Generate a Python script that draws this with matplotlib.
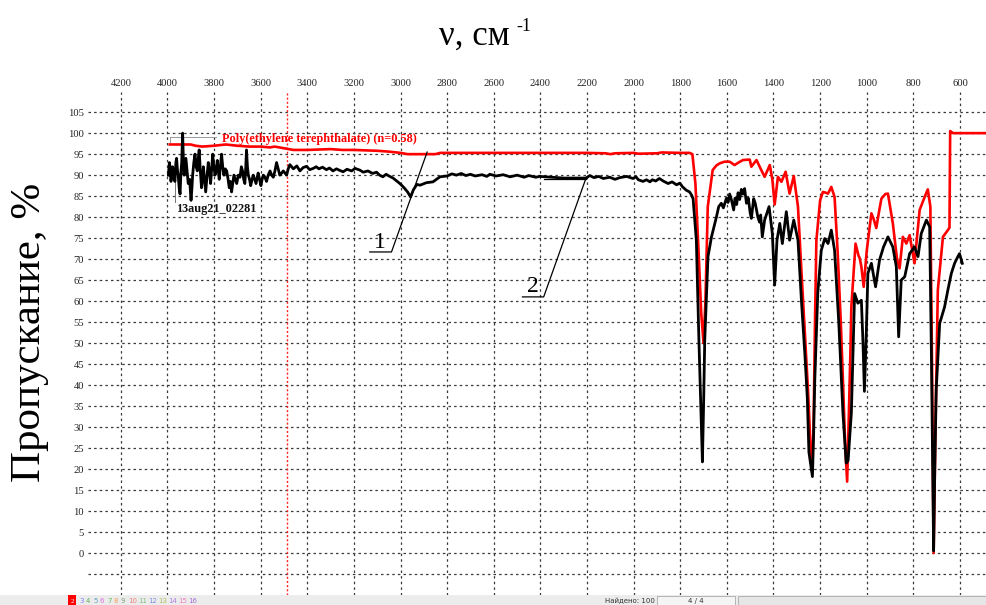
import numpy as np
import matplotlib
matplotlib.use("Agg")
import matplotlib.pyplot as plt
from matplotlib.patches import Rectangle

# reference spectrum (red) - Poly(ethylene terephthalate)
pet_wn = [3990, 3950, 3900, 3880, 3850, 3800, 3750, 3700, 3650, 3600, 3560, 3540, 3500, 3460,
          3400, 3300, 3250, 3200, 3100, 3050, 3000, 2970, 2900, 2850, 2830, 2800, 2600, 2400,
          2200, 2120, 2100, 2080, 2000, 1980, 1900, 1880, 1800, 1760, 1748, 1735, 1720, 1710,
          1700, 1692, 1682, 1661, 1645, 1631, 1610, 1588, 1567, 1550, 1531, 1502, 1495, 1473,
          1455, 1438, 1416, 1405, 1395, 1381, 1366, 1348, 1331, 1313, 1295, 1280, 1265, 1252,
          1240, 1235, 1228, 1222, 1216, 1200, 1188, 1175, 1166, 1152, 1138, 1125, 1112, 1102,
          1092, 1084, 1078, 1070, 1066, 1048, 1035, 1030, 1023, 1013, 1000, 980, 970, 959, 945,
          937, 920, 909, 888, 870, 859, 845, 830, 816, 795, 773, 750, 738, 727, 720, 713, 705,
          695, 673, 652, 645, 642, 630, 480]
pet_t = [97.3, 97.3, 97.3, 97.0, 96.8, 97.0, 97.3, 97.0, 96.8, 96.8, 96.6, 96.8, 96.4, 96.0,
         96.0, 96.2, 96.0, 96.0, 95.8, 95.6, 95.3, 95.0, 95.0, 95.0, 95.3, 95.3, 95.3, 95.3,
         95.3, 95.2, 95.0, 95.2, 95.3, 95.1, 95.2, 95.4, 95.3, 95.3, 95.0, 88.0, 70.0, 57.0,
         50.0, 60.0, 82.5, 91.2, 92.3, 92.8, 93.2, 93.2, 92.4, 93.0, 93.6, 93.7, 92.0, 93.6,
         91.5, 89.6, 92.4, 89.0, 83.0, 89.6, 88.4, 90.8, 85.6, 89.8, 82.5, 67.0, 52.0, 38.8,
         24.0, 19.5, 30.0, 55.0, 74.5, 84.0, 86.0, 85.8, 85.6, 87.2, 84.8, 72.0, 56.0, 41.0,
         25.0, 17.0, 30.0, 48.0, 58.6, 73.7, 70.8, 70.2, 68.2, 63.4, 72.0, 80.9, 79.5, 77.4, 82.0,
         84.4, 85.5, 85.6, 78.5, 70.0, 67.8, 75.3, 73.7, 75.7, 69.0, 81.7, 85.0, 86.6, 82.5, 45.0,
         0.0, 30.0, 62.6, 75.3, 76.9, 77.5, 100.5, 100.0, 100.0]

# sample spectrum (black) - 13aug21_02281
smp_wn = [3996, 3992, 3989, 3985, 3982, 3978, 3975, 3971, 3968, 3964, 3961, 3957, 3954, 3950,
          3946, 3942, 3939, 3935, 3932, 3929, 3925, 3921, 3916, 3911, 3905, 3899, 3895, 3892,
          3887, 3882, 3877, 3872, 3868, 3864, 3859, 3854, 3850, 3846, 3841, 3836, 3830, 3825,
          3820, 3815, 3810, 3806, 3801, 3796, 3791, 3786, 3782, 3778, 3773, 3768, 3763, 3758,
          3752, 3746, 3740, 3735, 3730, 3725, 3720, 3715, 3709, 3703, 3696, 3689, 3683, 3678,
          3673, 3668, 3664, 3661, 3657, 3653, 3648, 3643, 3637, 3632, 3626, 3620, 3615, 3611,
          3605, 3599, 3594, 3589, 3582, 3575, 3568, 3560, 3553, 3546, 3539, 3532, 3525, 3518,
          3510, 3503, 3496, 3489, 3482, 3475,
          3460, 3445, 3432, 3418, 3403, 3390, 3375, 3362, 3350, 3335, 3318, 3305, 3290, 3275,
          3260, 3246, 3230, 3210, 3195, 3175, 3160, 3140, 3120, 3103, 3090, 3076, 3062, 3050,
          3032, 3003, 2985, 2970, 2957, 2945, 2930, 2917, 2889, 2861, 2831, 2800, 2780, 2760,
          2740, 2720, 2700, 2680, 2650, 2630, 2617, 2590, 2560, 2530, 2500, 2470, 2450, 2420,
          2403, 2300, 2205, 2188, 2170, 2150, 2130, 2103, 2080, 2060, 2030, 2003, 1990, 1980,
          1960, 1945, 1930, 1920, 1905, 1890, 1870, 1852, 1835, 1816, 1802, 1790, 1774, 1760,
          1752, 1745, 1731, 1720, 1712, 1705, 1700, 1695, 1681, 1666, 1645, 1635, 1624, 1615,
          1602, 1595, 1588, 1580, 1571, 1565, 1558, 1552, 1545, 1538, 1531, 1524, 1516, 1508,
          1500, 1495, 1490, 1485, 1478, 1472, 1467, 1460, 1455, 1448, 1438, 1419, 1405, 1395,
          1385, 1373, 1362, 1345, 1331, 1313, 1295, 1280, 1265, 1255, 1248, 1240, 1233, 1228,
          1223, 1210, 1195, 1180, 1166, 1152, 1138, 1120, 1102, 1088, 1080, 1066, 1052, 1038,
          1023, 1016, 1010, 1003, 995, 980, 962, 945, 928, 909, 888, 873, 863, 852, 837, 816,
          795, 780, 766, 744, 730, 722, 713, 708, 702, 687, 666, 652, 637, 623, 609, 602, 590]
smp_t = [90.0, 93.0, 92.0, 88.5, 90.0, 92.0, 91.0, 89.0, 88.5, 93.0, 94.0, 91.0, 90.0, 87.0,
         85.5, 91.0, 93.0, 100.0, 94.0, 90.0, 92.0, 94.0, 91.0, 88.0, 89.0, 84.0, 87.0, 90.0,
         93.0, 95.0, 92.0, 91.0, 94.0, 96.0, 91.0, 87.0, 89.0, 92.0, 89.0, 86.0, 90.0, 93.0,
         91.0, 88.0, 92.0, 95.0, 92.0, 90.0, 91.5, 93.5, 91.0, 89.0, 92.0, 95.0, 92.0, 90.0,
         91.5, 91.0, 89.0, 87.0, 88.5, 86.0, 88.0, 90.0, 89.0, 88.0, 90.0, 89.5, 92.0, 91.0,
         89.0, 88.0, 92.0, 96.0, 92.0, 90.0, 89.0, 87.5, 89.0, 90.0, 89.0, 88.0, 89.5, 90.5,
         89.0, 87.5, 89.0, 90.0, 89.5, 88.5, 90.0, 91.0, 90.0, 89.5, 91.0, 93.0, 91.5, 90.0,
         90.5, 91.0, 90.5, 90.0, 91.5, 92.5,
         91.5, 92.2, 91.0, 91.8, 92.1, 91.3, 91.6, 92.0, 91.5, 91.9, 91.3, 91.7, 91.0, 91.5,
         91.1, 90.8, 91.4, 91.0, 91.6, 91.2, 90.7, 91.0, 90.4, 90.7, 90.0, 89.6, 90.2, 89.8,
         89.3, 88.0, 87.0, 86.0, 84.8, 86.5, 87.8, 87.6, 88.2, 88.4, 89.6, 89.8, 90.3, 90.0,
         90.4, 89.9, 90.2, 89.8, 90.1, 89.7, 90.2, 89.8, 90.1, 89.6, 90.0, 89.5, 89.9, 89.5,
         89.7, 89.3, 89.3, 89.9, 89.4, 89.7, 89.2, 89.5, 89.0, 89.4, 89.7, 89.2, 89.6, 88.9,
         88.5, 88.9, 88.4, 88.9, 88.6, 89.2, 88.5, 88.0, 88.4, 87.7, 88.1, 87.2, 86.4, 86.0,
         85.3, 84.4, 74.5, 50.7, 35.0, 21.7, 35.0, 50.7, 70.6, 75.3, 80.0, 82.5, 83.3, 82.2,
         84.5, 83.5, 85.5, 84.0, 81.7, 84.5, 83.0, 85.8, 84.2, 86.6, 85.5, 86.8, 83.3, 84.5,
         81.0, 79.7, 82.0, 84.4, 83.2, 81.5, 80.0, 78.8, 80.5, 75.3, 79.3, 82.5, 76.1, 63.8,
         74.5, 78.5, 73.7, 81.3, 74.5, 79.3, 74.5, 60.0, 47.0, 37.0, 24.0, 21.0, 18.2, 28.0,
         41.0, 62.0, 72.1, 74.9, 73.7, 76.9, 72.1, 55.0, 33.3, 21.4, 22.0, 33.3, 61.8, 59.5,
         60.2, 50.0, 38.5, 50.0, 66.6, 69.0, 63.4, 69.8, 72.9, 75.3, 72.9, 68.2, 51.5, 65.0, 65.8,
         71.3, 72.9, 70.6, 76.1, 79.3, 77.7, 45.0, 0.5, 20.0, 38.8, 54.7, 58.6, 62.6, 66.6, 69.0,
         70.6, 71.3, 69.0]

x_ticks = list(range(4200, 599, -200))
y_ticks = list(range(-5, 106, 5))
y_labels = ['' if v < 0 else str(v) for v in y_ticks]

serif = ['Liberation Serif', 'DejaVu Serif']
plt.rcParams['font.family'] = serif

W, H = 987, 605
fig = plt.figure(figsize=(W / 100, H / 100), dpi=100)
ax = fig.add_axes([88 / W, 10 / H, 1 - 88 / W, (595 - 92) / H])

ax.plot(pet_wn, pet_t, color='#ff0000', lw=1.9, zorder=3)
ax.plot(smp_wn, smp_t, color='black', lw=2.0, zorder=4)

ax.set_xlim(4341, 484)
ax.set_ylim(-10, 109.8)
ax.xaxis.tick_top()
ax.set_xticks(x_ticks)
ax.set_xticklabels([str(v) for v in x_ticks])
ax.set_yticks(y_ticks)
ax.set_yticklabels(y_labels)
ax.tick_params(axis='both', length=0, labelsize=7.6, colors='#222222', pad=3)
for s in ax.spines.values():
    s.set_visible(False)
ax.grid(True, color='#3a3a3a', linestyle=(0, (2, 2.5)), linewidth=0.9, zorder=0)

# red cursor line
ax.axvline(3488, color='#ff2020', lw=1.0, linestyle=(0, (1.5, 1.5)), zorder=2)

# legend labels
ax.plot([3990, 3790], [99.2, 99.2], color='#999999', lw=0.7, zorder=2)
ax.plot([3990, 3990], [99.2, 97.3], color='#999999', lw=0.7, zorder=2)
ax.plot([3966, 3966], [91, 83.5], color='#777777', lw=0.7, zorder=2)
ax.text(3766, 98.6, 'Poly(ethylene terephthalate) (n=0.58)', color='#ff0000',
        fontsize=8.8, fontweight='bold', va='center', ha='left', zorder=5)
ax.text(3962, 81.9, '13aug21_02281', color='#111111', fontsize=8.8,
        fontweight='bold', va='center', ha='left', zorder=5)

# numbered leaders
ax.plot([3132, 3039, 2886], [71.7, 71.7, 95.5], color='black', lw=0.9, zorder=5)
ax.text(3089, 72.7, '1', fontsize=17, ha='center', va='baseline', zorder=5)
ax.plot([2477, 2386, 2205], [61, 61, 89.2], color='black', lw=0.9, zorder=5)
ax.plot([2386, 2205], [89.1, 89.1], color='black', lw=0.9, zorder=5)
ax.text(2432, 62.2, '2', fontsize=17, ha='center', va='baseline', zorder=5)

# axis titles
fig.text(510 / W, 1 - 45 / H, 'ν, см', fontsize=25, ha='right', va='baseline')
fig.text(516 / W, 1 - 31 / H, '-1', fontsize=13, ha='left', va='baseline')
fig.text(30 / W, 1 - 332 / H, 'Пропускание, %', fontsize=31, rotation=90,
         ha='center', va='center')

# status bar at the bottom
fig.patches.append(Rectangle((0, 0), 1, 10 / H, transform=fig.transFigure,
                             facecolor='#ececec', edgecolor='none', zorder=1))
fig.patches.append(Rectangle((68 / W, 0), 8 / W, 10 / H, transform=fig.transFigure,
                             facecolor='#ff0000', edgecolor='none', zorder=2))
fig.text(72 / W, 1 / H, '2', fontsize=5, color='white', ha='center', va='bottom')
tab_names = ['3', '4', '5', '6', '7', '8', '9', '10', '11', '12', '13', '14', '15', '16']
tab_colors = ['#8080ff', '#60b060', '#60a0c0', '#e070e0', '#60c060', '#f0a060', '#80a080',
              '#f08080', '#80c080', '#8090e0', '#b0c060', '#b080e0', '#f080c0', '#a070d0']
tx = 79
for name, c in zip(tab_names, tab_colors):
    fig.text(tx / W, 1 / H, name, fontsize=5, color=c, ha='left', va='bottom',
             family='DejaVu Sans')
    tx += 7 if len(name) == 1 else 10
fig.text(655 / W, 1 / H, 'Найдено: 100', fontsize=5, color='#333333', ha='right',
         va='bottom', family='DejaVu Sans')
fig.patches.append(Rectangle((657 / W, 0), 78 / W, 9 / H, transform=fig.transFigure,
                             facecolor='#f4f4f4', edgecolor='#aaaaaa', lw=0.6, zorder=2))
fig.text(696 / W, 1 / H, '4 / 4', fontsize=5, color='#333333', ha='center',
         va='bottom', family='DejaVu Sans')
fig.patches.append(Rectangle((738 / W, 0), 260 / W, 9 / H, transform=fig.transFigure,
                             facecolor='#e6e6e6', edgecolor='#aaaaaa', lw=0.6, zorder=2))

fig.savefig('out.png', dpi=100)
